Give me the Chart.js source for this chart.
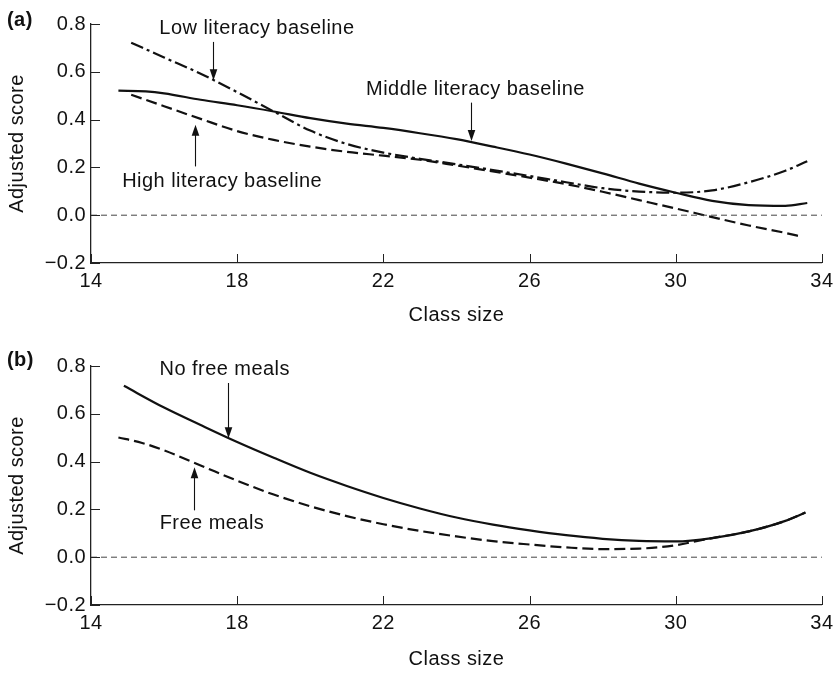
<!DOCTYPE html>
<html>
<head>
<meta charset="utf-8">
<title>Adjusted score by class size</title>
<script src="https://cdn.jsdelivr.net/npm/chart.js@4.4.1/dist/chart.umd.min.js"></script>
<style>
  html, body { margin: 0; padding: 0; background: #ffffff; }
  #wrap { position: relative; width: 839px; height: 673px; overflow: hidden; }
  canvas { position: absolute; left: 0; }
  #panelA { top: 0; }
  #panelB { top: 336px; }
</style>
</head>
<body>
<div id="wrap">
  <canvas id="panelA" width="839" height="336"></canvas>
  <canvas id="panelB" width="839" height="337"></canvas>
</div>
<script>
// Axis ticks shared by both panels
const xTicks = [14, 18, 22, 26, 30, 34];
const yTicks = [-0.2, 0.0, 0.2, 0.4, 0.6, 0.8];

// Reference line at zero
const refX = [14, 34];
const refY = [0, 0];

// Panel (a): adjusted score by class size, per literacy baseline
const lowLitX  = [15.1, 16, 17, 18, 19, 20, 21, 22, 23, 24, 25, 26, 27, 28, 29, 30, 31, 32, 33, 33.6];
const lowLitY  = [0.722, 0.66, 0.592, 0.515, 0.434, 0.354, 0.298, 0.262, 0.236, 0.213, 0.189, 0.164, 0.138, 0.113, 0.099, 0.094, 0.104, 0.138, 0.186, 0.226];

const midLitX  = [14.75, 15.5, 16, 17, 18, 19, 20, 21, 22, 23, 24, 25, 26, 27, 28, 29, 30, 31, 32, 33, 33.6];
const midLitY  = [0.521, 0.518, 0.51, 0.483, 0.46, 0.434, 0.406, 0.383, 0.365, 0.343, 0.318, 0.287, 0.254, 0.216, 0.175, 0.132, 0.094, 0.06, 0.042, 0.039, 0.051];

const highLitX = [15.1, 16, 17, 18, 19, 20, 21, 22, 23, 24, 25, 26, 27, 28, 29, 30, 31, 32, 33, 33.45];
const highLitY = [0.504, 0.456, 0.403, 0.352, 0.315, 0.287, 0.265, 0.249, 0.232, 0.208, 0.183, 0.157, 0.13, 0.098, 0.063, 0.028, -0.008, -0.043, -0.074, -0.09];

// Panel (b): adjusted score by class size, by free-meal eligibility
const noMealsX = [14.9, 16, 17, 18, 19, 20, 21, 22, 23, 24, 25, 26, 27, 28, 29, 30, 31, 32, 33, 33.55];
const noMealsY = [0.717, 0.626, 0.553, 0.482, 0.416, 0.353, 0.298, 0.248, 0.204, 0.166, 0.136, 0.112, 0.092, 0.077, 0.068, 0.066, 0.08, 0.108, 0.152, 0.187];

const mealsX   = [14.75, 15.4, 16, 17, 18, 19, 20, 21, 22, 23, 24, 25, 26, 27, 28, 29, 30, 30.6, 31, 32, 33, 33.55];
const mealsY   = [0.501, 0.478, 0.447, 0.384, 0.32, 0.262, 0.213, 0.172, 0.138, 0.11, 0.087, 0.067, 0.053, 0.041, 0.034, 0.036, 0.05, 0.068, 0.08, 0.108, 0.152, 0.187];

const FONT = "'Liberation Sans', Arial, Helvetica, sans-serif";
const INK = '#111111';

const pts = (xs, ys) => xs.map((x, i) => ({ x: x, y: ys[i] }));

function curve(label, xs, ys, dash) {
  return {
    label: label,
    data: pts(xs, ys),
    borderColor: INK,
    borderWidth: 2.2,
    borderDash: dash,
    pointRadius: 0,
    fill: false,
    cubicInterpolationMode: 'monotone'
  };
}

function zeroLine() {
  return {
    label: 'zero',
    data: pts(refX, refY),
    borderColor: '#444444',
    borderWidth: 1,
    borderDash: [6, 4],
    pointRadius: 0,
    fill: false
  };
}

// Inward tick marks, arrows with captions, and the panel letter
const decorPlugin = {
  id: 'decor',
  beforeDraw(chart) {
    chart.ctx.letterSpacing = '0.45px';
  },
  afterDraw(chart, args, opts) {
    const ctx = chart.ctx;
    const xs = chart.scales.x, ys = chart.scales.y;
    ctx.save();
    ctx.strokeStyle = '#222222';
    ctx.lineWidth = 1;
    xs.ticks.forEach(t => {
      const px = Math.round(xs.getPixelForValue(t.value)) + 0.5;
      ctx.beginPath();
      ctx.moveTo(px, ys.bottom);
      ctx.lineTo(px, ys.bottom - 9);
      ctx.stroke();
    });
    ys.ticks.forEach(t => {
      const py = Math.round(ys.getPixelForValue(t.value)) + 0.5;
      ctx.beginPath();
      ctx.moveTo(xs.left, py);
      ctx.lineTo(xs.left + 9, py);
      ctx.stroke();
    });

    ctx.fillStyle = INK;
    ctx.strokeStyle = INK;
    ctx.font = '20px ' + FONT;
    ctx.textAlign = 'center';
    ctx.textBaseline = 'middle';
    (opts.notes || []).forEach(n => {
      ctx.fillText(n.text, xs.getPixelForValue(n.tx), ys.getPixelForValue(n.ty));
      const ax = Math.round(xs.getPixelForValue(n.ax)) + 0.5;
      const y0 = ys.getPixelForValue(n.from);
      const y1 = ys.getPixelForValue(n.to);
      const dir = y1 > y0 ? 1 : -1;
      ctx.lineWidth = 1.1;
      ctx.beginPath();
      ctx.moveTo(ax, y0);
      ctx.lineTo(ax, y1 - dir * 8);
      ctx.stroke();
      ctx.beginPath();
      ctx.moveTo(ax, y1);
      ctx.lineTo(ax - 3.8, y1 - dir * 11);
      ctx.lineTo(ax + 3.8, y1 - dir * 11);
      ctx.closePath();
      ctx.fill();
    });

    if (opts.letter) {
      ctx.font = 'bold 20px ' + FONT;
      ctx.textAlign = 'left';
      ctx.fillText(opts.letter.text, opts.letter.x, opts.letter.y);
    }
    ctx.restore();
  }
};

function makePanel(canvas, datasets, cfg) {
  return new Chart(canvas, {
    type: 'line',
    data: { datasets: datasets },
    options: {
      responsive: false,
      animation: false,
      events: [],
      devicePixelRatio: 1,
      layout: { padding: { top: cfg.padTop, right: 17, bottom: cfg.padBottom, left: 0 } },
      plugins: {
        legend: { display: false },
        tooltip: { enabled: false },
        decor: { notes: cfg.notes, letter: cfg.letter }
      },
      scales: {
        x: {
          type: 'linear',
          min: 14,
          max: 34,
          afterBuildTicks: s => { s.ticks = xTicks.map(v => ({ value: v })); },
          afterFit: s => { s.height = cfg.xHeight; },
          grid: { display: false, drawTicks: false },
          border: { display: true, color: '#222222', width: 1.3 },
          ticks: {
            color: INK,
            padding: 6,
            maxRotation: 0,
            font: { family: FONT, size: 20 },
            callback: v => String(v)
          },
          title: {
            display: true,
            text: 'Class size',
            color: INK,
            font: { family: FONT, size: 20 },
            padding: { top: 0, bottom: cfg.titlePad }
          }
        },
        y: {
          type: 'linear',
          min: -0.2,
          max: 0.8,
          afterBuildTicks: s => { s.ticks = yTicks.map(v => ({ value: v })); },
          afterFit: s => { s.width = 91; },
          grid: { display: false, drawTicks: false },
          border: { display: true, color: '#222222', width: 1.3 },
          ticks: {
            color: INK,
            padding: 5,
            font: { family: FONT, size: 20 },
            callback: v => (v < -1e-9 ? '\u2212' : '') + Math.abs(v).toFixed(1)
          },
          title: {
            display: true,
            text: 'Adjusted score',
            color: INK,
            font: { family: FONT, size: 20 },
            padding: { top: 5, bottom: 0 }
          }
        }
      }
    },
    plugins: [decorPlugin]
  });
}

makePanel(document.getElementById('panelA'), [
  zeroLine(),
  curve('Low literacy baseline', lowLitX, lowLitY, [13, 4, 3, 4]),
  curve('Middle literacy baseline', midLitX, midLitY, []),
  curve('High literacy baseline', highLitX, highLitY, [11, 5])
], {
  padTop: 24, padBottom: 3, xHeight: 70, titlePad: 6,
  letter: { text: '(a)', x: 7, y: 20 },
  notes: [
    { text: 'Low literacy baseline', tx: 18.54, ty: 0.783, ax: 17.33, from: 0.725, to: 0.565 },
    { text: 'Middle literacy baseline', tx: 24.52, ty: 0.525, ax: 24.41, from: 0.471, to: 0.31 },
    { text: 'High literacy baseline', tx: 17.59, ty: 0.142, ax: 16.84, from: 0.204, to: 0.378 }
  ]
});

makePanel(document.getElementById('panelB'), [
  zeroLine(),
  curve('No free meals', noMealsX, noMealsY, []),
  curve('Free meals', mealsX, mealsY, [11, 5])
], {
  padTop: 30, padBottom: 0, xHeight: 68, titlePad: 2,
  letter: { text: '(b)', x: 7, y: 24 },
  notes: [
    { text: 'No free meals', tx: 17.66, ty: 0.7875, ax: 17.74, from: 0.729, to: 0.498 },
    { text: 'Free meals', tx: 17.31, ty: 0.142, ax: 16.81, from: 0.196, to: 0.376 }
  ]
});
</script>
</body>
</html>
